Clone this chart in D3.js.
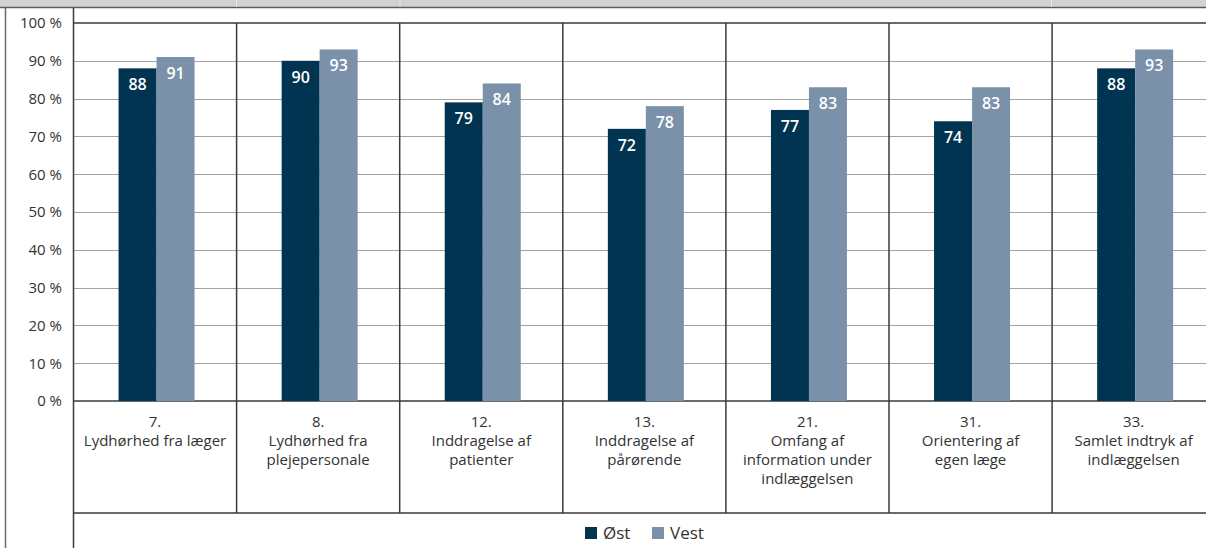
<!DOCTYPE html>
<html>
<head>
<meta charset="utf-8">
<script src="https://cdn.jsdelivr.net/npm/d3@7"></script>
<style>
  html, body { margin: 0; padding: 0; background: #fff; }
  svg { display: block; font-family: "Open Sans", "Noto Sans", sans-serif; }
</style>
</head>
<body>
<svg id="chart" width="1206" height="548"></svg>
<script>
// Question labels (number + wrapped text lines)
const categories = [
  ["7.", "Lydhørhed fra læger"],
  ["8.", "Lydhørhed fra", "plejepersonale"],
  ["12.", "Inddragelse af", "patienter"],
  ["13.", "Inddragelse af", "pårørende"],
  ["21.", "Omfang af", "information under", "indlæggelsen"],
  ["31.", "Orientering af", "egen læge"],
  ["33.", "Samlet indtryk af", "indlæggelsen"]
];
const seriesNames = ["Øst", "Vest"];
const ostValues  = [88, 90, 79, 72, 77, 74, 88];
const vestValues = [91, 93, 84, 78, 83, 83, 93];
const yTicks = [0, 10, 20, 30, 40, 50, 60, 70, 80, 90, 100];

const colors = { "Øst": "#003450", "Vest": "#7a91a9" };
const lineColor = "#3a3a3a";

const svg = d3.select("#chart");

const plotLeft = 73.5, bandStep = 163.1;
const plotTop = 23, plotBottom = 401, labelBottom = 513;

const x = d3.scaleBand()
  .domain(d3.range(categories.length))
  .range([plotLeft, plotLeft + bandStep * categories.length])
  .paddingInner(0).paddingOuter(0);

const xInner = d3.scaleBand()
  .domain(seriesNames)
  .range([0, 76]);

const y = d3.scaleLinear().domain([0, 100]).range([plotBottom, plotTop]);

// Header strip
svg.append("rect").attr("x", 0).attr("y", 0).attr("width", 1206).attr("height", 7)
  .attr("fill", "#d1d2d4");
svg.append("line").attr("x1", 0).attr("x2", 1206).attr("y1", 7.5).attr("y2", 7.5)
  .attr("stroke", "#5a5a5a").attr("stroke-width", 1.5);
svg.selectAll(".hdrdiv").data([236.5, 400, 1051.5]).enter().append("line")
  .attr("x1", d => d).attr("x2", d => d).attr("y1", 0).attr("y2", 7)
  .attr("stroke", "#e6e6e8").attr("stroke-width", 1);

// Outer frame lines
svg.append("line").attr("x1", 5.5).attr("x2", 5.5).attr("y1", 8).attr("y2", 548)
  .attr("stroke", "#6a6a6a").attr("stroke-width", 1.5);
svg.append("line").attr("x1", 73.5).attr("x2", 73.5).attr("y1", 8).attr("y2", 548)
  .attr("stroke", lineColor).attr("stroke-width", 1.5);

// Dotted gridlines
const grid = svg.append("g");
grid.selectAll("line").data(yTicks.filter(t => t > 0 && t < 100)).enter().append("line")
  .attr("x1", plotLeft).attr("x2", 1206)
  .attr("y1", d => Math.round(y(d)) + 0.5).attr("y2", d => Math.round(y(d)) + 0.5)
  .attr("stroke", "#444").attr("stroke-width", 1).attr("stroke-dasharray", "1,1");

// Plot top and baseline, bottom of label row
[plotTop, plotBottom, labelBottom].forEach(yy => {
  svg.append("line").attr("x1", plotLeft).attr("x2", 1206)
    .attr("y1", yy).attr("y2", yy)
    .attr("stroke", lineColor).attr("stroke-width", 1.5);
});

// Category separators
svg.selectAll(".sep").data(d3.range(1, categories.length)).enter().append("line")
  .attr("x1", d => x(d)).attr("x2", d => x(d))
  .attr("y1", plotTop).attr("y2", labelBottom)
  .attr("stroke", lineColor).attr("stroke-width", 1.5);

// Y axis labels
svg.append("g").selectAll("text").data(yTicks).enter().append("text")
  .attr("x", 62).attr("y", d => y(d)).attr("dy", "0.36em")
  .attr("text-anchor", "end").attr("font-size", 15).attr("fill", "#333")
  .text(d => d + " %");

// Bars
const rows = categories.map((c, i) => ({ i, "Øst": ostValues[i], "Vest": vestValues[i] }));
const groups = svg.append("g").selectAll("g").data(rows).enter().append("g")
  .attr("transform", d => `translate(${x(d.i) + x.bandwidth() / 2 - 38 + 1.5},0)`);

groups.selectAll("rect").data(d => seriesNames.map(s => ({ s, v: d[s] }))).enter().append("rect")
  .attr("x", d => xInner(d.s)).attr("width", xInner.bandwidth())
  .attr("y", d => y(d.v)).attr("height", d => y(0) - y(d.v))
  .attr("fill", d => colors[d.s]);

groups.selectAll("text").data(d => seriesNames.map(s => ({ s, v: d[s] }))).enter().append("text")
  .attr("x", d => xInner(d.s) + xInner.bandwidth() / 2)
  .attr("y", d => y(d.v) + 22)
  .attr("text-anchor", "middle").attr("font-size", 16).attr("font-weight", 600)
  .attr("fill", "#fff")
  .text(d => d.v);

// Category labels
const catLabels = svg.append("g").selectAll("text").data(categories).enter().append("text")
  .attr("text-anchor", "middle").attr("font-size", 15).attr("fill", "#333")
  .attr("transform", (d, i) => `translate(${x(i) + x.bandwidth() / 2},426.5)`);
catLabels.selectAll("tspan").data(d => d).enter().append("tspan")
  .attr("x", 0).attr("y", (d, j) => j * 19.3)
  .text(d => d);

// Legend
const legend = svg.append("g").attr("transform", "translate(585,533)");
const legendX = [0, 67];
seriesNames.forEach((s, k) => {
  const g = legend.append("g").attr("transform", `translate(${legendX[k]},0)`);
  g.append("rect").attr("x", 0).attr("y", -6).attr("width", 12).attr("height", 12)
    .attr("fill", colors[s]);
  g.append("text").attr("x", 18).attr("y", 0).attr("dy", "0.36em")
    .attr("font-size", 17).attr("fill", "#333").text(s);
});
</script>
</body>
</html>
